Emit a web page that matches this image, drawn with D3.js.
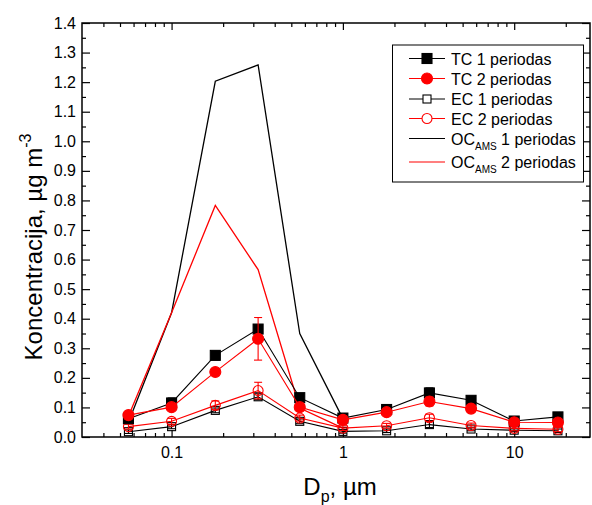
<!DOCTYPE html>
<html><head><meta charset="utf-8">
<script src="https://cdn.jsdelivr.net/npm/d3@7"></script>
<style>body{margin:0;background:#fff}svg{display:block}text{font-family:Arial,"Liberation Sans",sans-serif}</style>
</head><body>
<svg id="c" width="592" height="505"></svg>
<script>
const sizes = [0.056, 0.1, 0.18, 0.32, 0.56, 1.0, 1.8, 3.2, 5.6, 10, 18];
const tc1 = [0.062, 0.115, 0.276, 0.365, 0.133, 0.064, 0.093, 0.149, 0.124, 0.054, 0.068];
const tc2 = [0.074, 0.101, 0.220, 0.332, 0.101, 0.058, 0.084, 0.120, 0.096, 0.050, 0.049];
const ec1 = [0.018, 0.035, 0.090, 0.136, 0.053, 0.019, 0.021, 0.042, 0.027, 0.023, 0.021];
const ec2 = [0.035, 0.053, 0.107, 0.157, 0.064, 0.030, 0.038, 0.065, 0.039, 0.029, 0.026];
const tc1Err = [0.005, 0.017, 0.008, 0.010, 0.008, 0.006, 0.005, 0.017, 0.008, 0.005, 0.013];
const tc2Err = [0.008, 0.010, 0.010, 0.072, 0.010, 0.008, 0.005, 0.015, 0.010, 0.006, 0.010];
const ec1Err = [0.006, 0.007, 0.008, 0.010, 0.008, 0.006, 0.006, 0.010, 0.006, 0.005, 0.006];
const ec2Err = [0.008, 0.010, 0.015, 0.028, 0.010, 0.008, 0.008, 0.012, 0.008, 0.008, 0.008];
const ocSizes = [0.056, 0.1, 0.18, 0.32, 0.56, 1.0];
const oc1 = [0.05, 0.42, 1.203, 1.258, 0.350, 0.062];
const oc2 = [0.07, 0.42, 0.783, 0.566, 0.098, 0.030];
const xMajor = [0.1, 1, 10];
const xMinor = [0.04,0.05,0.06,0.07,0.08,0.09,0.2,0.3,0.4,0.5,0.6,0.7,0.8,0.9,2,3,4,5,6,7,8,9,20];
const yMajor = [0,0.1,0.2,0.3,0.4,0.5,0.6,0.7,0.8,0.9,1.0,1.1,1.2,1.3,1.4];
const yMinor = [0.05,0.15,0.25,0.35,0.45,0.55,0.65,0.75,0.85,0.95,1.05,1.15,1.25,1.35];
const legendLabels = ["TC 1 periodas","TC 2 periodas","EC 1 periodas","EC 2 periodas","1 periodas","2 periodas"];

const svg = d3.select("#c");
const L = 82, R = 590, T = 23, B = 437;
const x = d3.scaleLog().domain([0.03, 27.7]).range([L, R]);
const y = d3.scaleLinear().domain([0, 1.4]).range([B, T]);

// axes
function ax(gen, tx, ty){ const g = svg.append("g").attr("transform",`translate(${tx},${ty})`).call(gen); g.select(".domain").remove(); g.selectAll("line").attr("stroke","#000").attr("stroke-width",1.2); g.selectAll("text").attr("font-size",16).attr("fill","#000"); return g; }
ax(d3.axisBottom(x).tickValues(xMajor).tickSize(-7).tickPadding(9.5).tickFormat(d=>d3.format("")(d)), 0, B);
ax(d3.axisBottom(x).tickValues(xMinor).tickSize(-4).tickFormat(""), 0, B);
ax(d3.axisTop(x).tickValues(xMajor).tickSize(-7).tickFormat(""), 0, T);
ax(d3.axisTop(x).tickValues(xMinor).tickSize(-4).tickFormat(""), 0, T);
ax(d3.axisLeft(y).tickValues(yMajor).tickSize(-8).tickPadding(6).tickFormat(d3.format(".1f")), L, 0);
ax(d3.axisLeft(y).tickValues(yMinor).tickSize(-4).tickFormat(""), L, 0);
ax(d3.axisRight(y).tickValues(yMajor).tickSize(-8).tickFormat(""), R, 0);
ax(d3.axisRight(y).tickValues(yMinor).tickSize(-4).tickFormat(""), R, 0);
svg.append("rect").attr("x",L).attr("y",T).attr("width",R-L).attr("height",B-T).attr("fill","none").attr("stroke","#000").attr("stroke-width",1.5);

// titles
const yt = svg.append("text").attr("transform","translate(42,247) rotate(-90)").attr("text-anchor","middle").attr("font-size",24);
yt.append("tspan").text("Koncentracija, µg m");
yt.append("tspan").attr("font-size",16).attr("dy",-11).text("-3");
const xt = svg.append("text").attr("x",340).attr("y",495).attr("text-anchor","middle").attr("font-size",24);
xt.append("tspan").text("D");
xt.append("tspan").attr("font-size",16).attr("dy",7).text("p");
xt.append("tspan").attr("dy",-7).text(", µm");

const line = d3.line().x(d=>x(d[0])).y(d=>y(d[1]));
function drawOC(vals, col){
  svg.append("path").datum(ocSizes.map((s,i)=>[s,vals[i]])).attr("d",line).attr("fill","none").attr("stroke",col).attr("stroke-width",1.3);
}
function series(vals, errs, col, shape, filled){
  const data = sizes.map((s,i)=>({s, v:vals[i], e:errs[i]}));
  svg.append("path").datum(data.map(d=>[d.s,d.v])).attr("d",line).attr("fill","none").attr("stroke",col).attr("stroke-width",1.1);
  const g = svg.append("g");
  data.forEach(d=>{
    const cx = x(d.s), y1 = y(d.v+d.e), y2 = y(d.v-d.e);
    g.append("line").attr("x1",cx).attr("x2",cx).attr("y1",y1).attr("y2",y2).attr("stroke",col).attr("stroke-width",1.1);
    [y1,y2].forEach(yy=>g.append("line").attr("x1",cx-4).attr("x2",cx+4).attr("y1",yy).attr("y2",yy).attr("stroke",col).attr("stroke-width",1.1));
  });
  data.forEach(d=>marker(g, x(d.s), y(d.v), col, shape, filled, false));
}
function marker(g, cx, cy, col, shape, filled, legend){
  if(shape==="sq"){
    const s = filled?10:8;
    g.append("rect").attr("x",cx-s/2).attr("y",cy-s/2).attr("width",s).attr("height",s)
      .attr("fill",filled?col:(legend?"#fff":"none")).attr("stroke",col).attr("stroke-width",1.1);
  } else {
    const r = filled?5.5:5;
    g.append("circle").attr("cx",cx).attr("cy",cy).attr("r",r)
      .attr("fill",filled?col:(legend?"#fff":"none")).attr("stroke",col).attr("stroke-width",1.1);
  }
}
drawOC(oc1,"#000");
drawOC(oc2,"#ff0000");
series(ec1, ec1Err, "#000", "sq", false);
series(ec2, ec2Err, "#ff0000", "ci", false);
series(tc1, tc1Err, "#000", "sq", true);
series(tc2, tc2Err, "#ff0000", "ci", true);

// legend
svg.append("rect").attr("x",392.5).attr("y",45).attr("width",191).attr("height",137).attr("fill","#fff").attr("stroke","#000").attr("stroke-width",1);
const rowsY = [58.5, 78.5, 99, 118.5, 138.5, 162];
const styles = [["#000","sq",true],["#ff0000","ci",true],["#000","sq",false],["#ff0000","ci",false],["#000",null],["#ff0000",null]];
const lg = svg.append("g");
rowsY.forEach((ry,i)=>{
  const [col, shape, filled] = styles[i];
  lg.append("line").attr("x1",409).attr("x2",445).attr("y1",ry).attr("y2",ry).attr("stroke",col).attr("stroke-width",1.1);
  if(shape) marker(lg, 427, ry, col, shape, filled, true);
  const t = lg.append("text").attr("x",451).attr("y",ry+6).attr("font-size",16);
  if(i<4){ t.text(legendLabels[i]); }
  else { t.append("tspan").text("OC"); t.append("tspan").attr("font-size",10).attr("dy",5).text("AMS"); t.append("tspan").attr("dy",-5).text(" "+legendLabels[i]); }
});
</script>
</body></html>
